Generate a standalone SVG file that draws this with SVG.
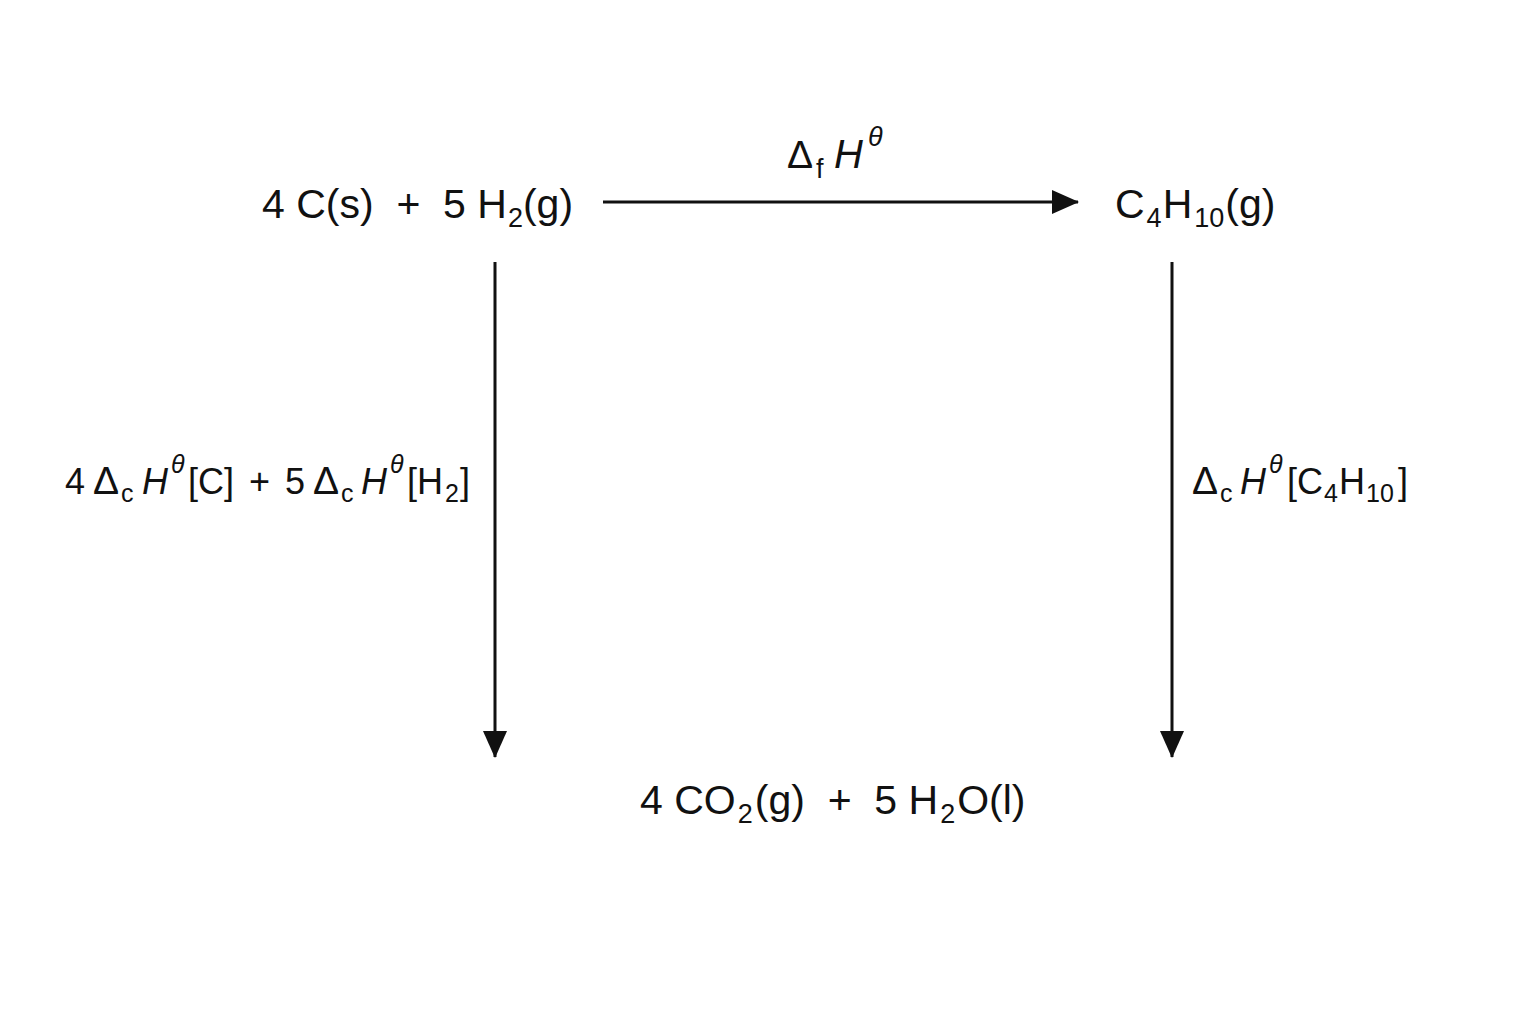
<svg xmlns="http://www.w3.org/2000/svg" width="1536" height="1024" viewBox="0 0 1536 1024">
<defs>
<style>
text{font-family:"Liberation Sans",Arial,sans-serif;fill:#111;white-space:pre}
.sp{font-size:41px}
.lb{font-size:36px}
.it{font-style:italic}
.sb{font-size:27px}
.sl{font-size:25px}
.dl{font-size:39px}
.ln{stroke:#111;stroke-width:3;fill:none}
</style>
<marker id="ah" markerUnits="userSpaceOnUse" markerWidth="28" markerHeight="24" refX="26" refY="12" orient="auto">
<path d="M0,0 L27,12 L0,24 Z" fill="#111"/>
</marker>
</defs>
<rect width="1536" height="1024" fill="#fff"/>
<g id="connectors">
<line class="ln" x1="603" y1="202" x2="1078" y2="202" marker-end="url(#ah)"/>
<line class="ln" x1="495" y1="262" x2="495" y2="757" marker-end="url(#ah)"/>
<line class="ln" x1="1172" y1="262" x2="1172" y2="757" marker-end="url(#ah)"/>
</g>
<g id="reactants">
<text class="sp" x="262" y="218">4 C(s)  +  5 H<tspan class="sb" dx="1" dy="9">2</tspan><tspan dy="-9">(g)</tspan></text>
</g>
<g id="butane">
<text class="sp" x="1115" y="218">C<tspan class="sb" dx="2" dy="9">4</tspan><tspan dx="1" dy="-9">H</tspan><tspan class="sb" dx="2" dy="9">10</tspan><tspan dx="1" dy="-9">(g)</tspan></text>
</g>
<g id="products">
<text class="sp" x="640" y="814">4 CO<tspan class="sb" dx="2" dy="9">2</tspan><tspan dx="2" dy="-9">(g)  +  5 H</tspan><tspan class="sb" dx="2" dy="9">2</tspan><tspan dx="2" dy="-9">O(l)</tspan></text>
</g>
<g id="label-f">
<text class="lb" y="168"><tspan class="dl" x="787">Δ</tspan><tspan class="sb" x="816" dy="10">f</tspan><tspan class="it" font-size="40" x="834" dy="-10">H</tspan><tspan class="it sb" x="868" dy="-22">θ</tspan></text>
</g>
<g id="label-left">
<text class="lb" y="494"><tspan x="65">4</tspan><tspan class="dl" x="93">Δ</tspan><tspan class="sl" x="121" dy="8">c</tspan><tspan class="it" x="142" dy="-8">H</tspan><tspan class="it sl" x="171" dy="-21">θ</tspan><tspan x="188" dy="21">[C]</tspan><tspan x="249">+</tspan><tspan x="285">5</tspan><tspan class="dl" x="313">Δ</tspan><tspan class="sl" x="341" dy="8">c</tspan><tspan class="it" x="361" dy="-8">H</tspan><tspan class="it sl" x="390" dy="-21">θ</tspan><tspan x="407" dy="21">[H</tspan><tspan class="sl" x="445" dy="8">2</tspan><tspan x="460" dy="-8">]</tspan></text>
</g>
<g id="label-right">
<text class="lb" y="494"><tspan class="dl" x="1192">Δ</tspan><tspan class="sl" x="1220" dy="8">c</tspan><tspan class="it" x="1240" dy="-8">H</tspan><tspan class="it sl" x="1269" dy="-21">θ</tspan><tspan x="1287" dy="21">[C</tspan><tspan class="sl" x="1324" dy="8">4</tspan><tspan x="1339" dy="-8">H</tspan><tspan class="sl" x="1366" dy="8">10</tspan><tspan x="1398" dy="-8">]</tspan></text>
</g>
</svg>
